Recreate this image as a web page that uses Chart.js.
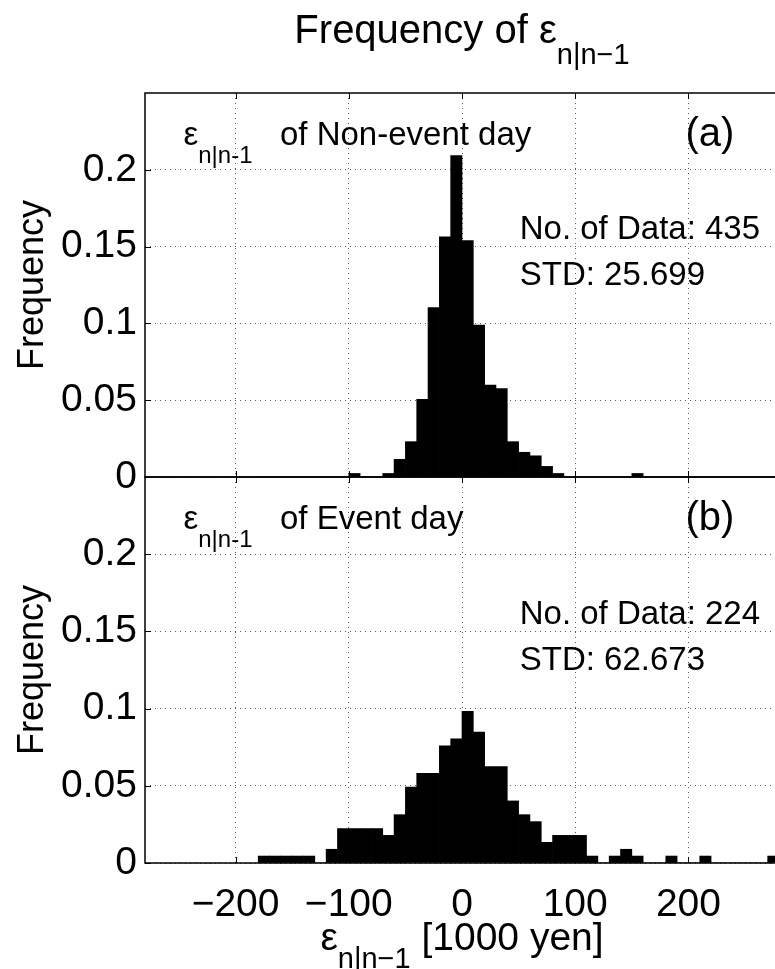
<!DOCTYPE html>
<html>
<head>
<meta charset="utf-8">
<title>Frequency of ε n|n-1</title>
<script src="https://cdn.jsdelivr.net/npm/chart.js@4.4.1/dist/chart.umd.min.js"></script>
<style>
  html, body { margin: 0; padding: 0; background: #fff; overflow: hidden; }
  #page { position: relative; width: 775px; height: 969px; overflow: hidden; }
  .layer { position: absolute; left: 0; top: 0; width: 780px; height: 969px; }
</style>
</head>
<body>
<div id="page">
  <div class="layer"><canvas id="topChart"></canvas></div>
  <div class="layer"><canvas id="bottomChart"></canvas></div>
</div>
<script>
// --- Data (bin width 10, unit: 1000 yen) ---

const binCenters = [
  -175, -165, -155, -145, -135, -125, -115, -105, -95, -85, -75, -65,
  -55, -45, -35, -25, -15, -5, 5, 15, 25, 35, 45, 55,
  65, 75, 85, 95, 105, 115, 125, 135, 145, 155, 165, 175,
  185, 195, 205, 215, 225, 235, 245, 255, 265, 275
];

// (a) non-event days
const nonEventFreq = [
  0, 0, 0, 0, 0, 0, 0, 0, 0.0023, 0, 0, 0.0023,
  0.0115, 0.0230, 0.0506, 0.1103, 0.1563, 0.2092, 0.1540, 0.0989, 0.0598, 0.0575, 0.0230, 0.0161,
  0.0138, 0.0069, 0.0023, 0, 0, 0, 0, 0, 0, 0.0023, 0, 0,
  0, 0, 0, 0, 0, 0, 0, 0, 0, 0
];

// (b) event days
const eventFreq = [
  0.0045, 0.0045, 0.0045, 0.0045, 0.0045, 0, 0.0089, 0.0223, 0.0223, 0.0223, 0.0223, 0.0179,
  0.0313, 0.0491, 0.0580, 0.0580, 0.0759, 0.0804, 0.0982, 0.0848, 0.0625, 0.0625, 0.0402, 0.0313,
  0.0268, 0.0134, 0.0179, 0.0179, 0.0179, 0.0045, 0, 0.0045, 0.0089, 0.0045, 0, 0,
  0.0045, 0, 0, 0.0045, 0, 0, 0, 0, 0, 0.0045
];

const xTicks = [-200, -100, 0, 100, 200];
const yTicks = [0, 0.05, 0.1, 0.15, 0.2];
const xRange = [-280, 280];
const yRange = [0, 0.25];

const nonEventInfo = ['No. of Data: 435', 'STD: 25.699'];
const eventInfo = ['No. of Data: 224', 'STD: 62.673'];

// --- Helpers ---

const FONT = '"Liberation Sans", Arial, Helvetica, sans-serif';
const SUB = 'n|n\u22121';
const SUB_ASCII = 'n|n-1';

Chart.defaults.font.family = FONT;
Chart.defaults.color = '#000';

// draws text pieces [text, size, dy] one after another (simple sub-scripts)
function drawPieces(ctx, pieces, x, y, align) {
  let total = 0;
  const widths = pieces.map(p => {
    ctx.font = p[1] + 'px ' + FONT;
    const w = ctx.measureText(p[0]).width;
    total += w;
    return w;
  });
  let cx = align === 'center' ? x - total / 2 : x;
  ctx.textAlign = 'left';
  ctx.textBaseline = 'alphabetic';
  pieces.forEach((p, i) => {
    ctx.font = p[1] + 'px ' + FONT;
    ctx.fillText(p[0], cx, y + (p[2] || 0));
    cx += widths[i];
  });
}

function line(ctx, x1, y1, x2, y2) {
  ctx.beginPath();
  ctx.moveTo(x1, y1);
  ctx.lineTo(x2, y2);
  ctx.stroke();
}

// box + inward tick marks, matlab style
const frame = {
  id: 'frame',
  afterDatasetsDraw(chart) {
    const { ctx, chartArea: a, scales: { x, y } } = chart;
    ctx.save();
    ctx.strokeStyle = '#000';
    ctx.lineWidth = 1.5;
    ctx.strokeRect(a.left, a.top, a.right - a.left, a.bottom - a.top);
    ctx.lineWidth = 1;
    x.ticks.forEach(t => {
      const px = Math.round(x.getPixelForValue(t.value)) + 0.5;
      line(ctx, px, a.bottom, px, a.bottom - 6);
      line(ctx, px, a.top, px, a.top + 6);
    });
    y.ticks.forEach(t => {
      const py = Math.round(y.getPixelForValue(t.value)) + 0.5;
      line(ctx, a.left, py, a.left + 6, py);
    });
    ctx.restore();
  }
};

// texts placed in data coordinates
const annotations = {
  id: 'annotations',
  afterDraw(chart, args, opts) {
    const { ctx, scales: { x, y } } = chart;
    ctx.save();
    ctx.fillStyle = '#000';
    drawPieces(ctx, [['\u03b5', 33, 0], [SUB_ASCII, 24, 18], ['   ' + opts.label, 33, 0]],
      x.getPixelForValue(-246), y.getPixelForValue(0.216), 'left');
    drawPieces(ctx, [[opts.tag, 40, 0]], x.getPixelForValue(219), y.getPixelForValue(0.2156), 'center');
    drawPieces(ctx, [[opts.info[0], 33, 0]], x.getPixelForValue(51), y.getPixelForValue(0.155), 'left');
    drawPieces(ctx, [[opts.info[1], 33, 0]], x.getPixelForValue(51), y.getPixelForValue(0.1247), 'left');

    if (opts.title) {
      const a = chart.chartArea;
      drawPieces(ctx, [['Frequency of \u03b5', 40, 0], [SUB, 29, 21]], (a.left + a.right) / 2, 43, 'center');
    }
    if (opts.xTitle) {
      const a = chart.chartArea;
      drawPieces(ctx, [['\u03b5', 39, 0], [SUB, 29, 18], [' [1000 yen]', 39, 0]], (a.left + a.right) / 2, 950, 'center');
    }
    ctx.restore();
  }
};

function makeChart(id, freq, opts) {
  const ctx = document.getElementById(id).getContext('2d');
  return new Chart(ctx, {
    type: 'bar',
    data: {
      datasets: [{
        data: binCenters.map((c, i) => ({ x: c, y: freq[i] })),
        backgroundColor: '#000',
        borderWidth: 0,
        barPercentage: 1,
        categoryPercentage: 1
      }]
    },
    options: {
      responsive: true,
      maintainAspectRatio: false,
      animation: false,
      layout: { padding: { top: opts.top, bottom: opts.bottom, left: 0, right: 1 } },
      scales: {
        x: {
          type: 'linear',
          min: xRange[0],
          max: xRange[1],
          offset: false,
          afterBuildTicks: s => { s.ticks = xTicks.map(v => ({ value: v })); },
          afterFit: s => { s.height = opts.xHeight; },
          grid: { offset: false, drawTicks: false, color: 'rgba(0,0,0,0.65)', lineWidth: 1 },
          border: { display: false, dash: [1, 4] },
          ticks: {
            display: opts.showX,
            padding: 19,
            font: { size: 39 },
            color: '#000',
            maxRotation: 0,
            autoSkip: false,
            callback: v => v < 0 ? '\u2212' + Math.abs(v) : String(v)
          }
        },
        y: {
          min: yRange[0],
          max: yRange[1],
          afterBuildTicks: s => { s.ticks = yTicks.map(v => ({ value: v })); },
          afterFit: s => { s.width = 145; },
          grid: { drawTicks: false, color: 'rgba(0,0,0,0.65)', lineWidth: 1 },
          border: { display: false, dash: [1, 4] },
          ticks: { padding: 8, font: { size: 39 }, color: '#000', callback: v => String(v) },
          title: { display: true, text: 'Frequency', font: { size: 36 }, color: '#000', padding: { top: 11, bottom: 0 } }
        }
      },
      plugins: {
        legend: { display: false },
        tooltip: { enabled: false },
        annotations: opts.ann
      }
    },
    plugins: [frame, annotations]
  });
}

// --- Charts ---

makeChart('topChart', nonEventFreq, {
  top: 93, bottom: 969 - 477, xHeight: 0, showX: false,
  ann: { label: 'of Non-event day', tag: '(a)', info: nonEventInfo, title: true }
});

makeChart('bottomChart', eventFreq, {
  top: 477, bottom: 0, xHeight: 969 - 863, showX: true,
  ann: { label: 'of Event day', tag: '(b)', info: eventInfo, xTitle: true }
});
</script>
</body>
</html>
